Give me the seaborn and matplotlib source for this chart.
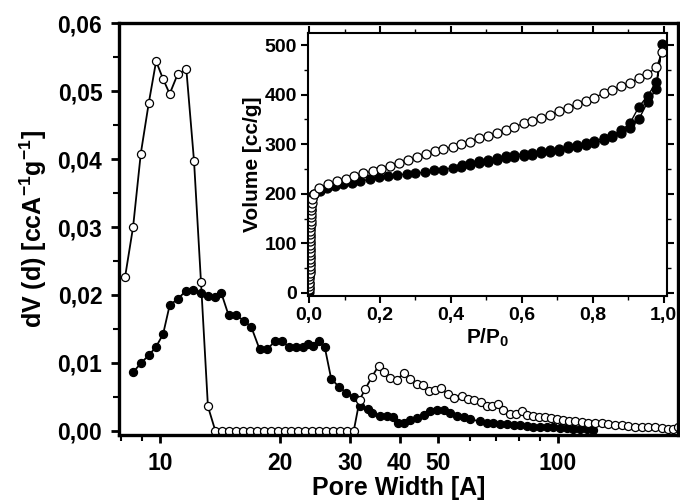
import matplotlib
matplotlib.use("Agg")
import matplotlib.pyplot as plt
import pandas as pd
import seaborn as sns

sns.set_style("ticks")
plt.rcParams["font.family"] = ["Liberation Sans", "DejaVu Sans"]
plt.rcParams["font.weight"] = "bold"
plt.rcParams["axes.labelweight"] = "bold"
plt.rcParams["mathtext.fontset"] = "custom"
plt.rcParams["mathtext.rm"] = "Liberation Sans:bold"
plt.rcParams["mathtext.bf"] = "Liberation Sans:bold"
plt.rcParams["mathtext.default"] = "rm"
for k in ("text.color", "axes.labelcolor", "xtick.color", "ytick.color", "axes.edgecolor"):
    plt.rcParams[k] = "black"

# ---------------------------------------------------------------- main: pore size distribution
open_pw = [8.18, 8.57, 8.96, 9.38, 9.79, 10.19, 10.59, 11.09, 11.66, 12.19, 12.69, 13.21,
           13.79, 14.35, 14.94, 15.55, 16.18, 16.84, 17.53, 18.25, 18.99, 19.77, 20.57,
           21.41, 22.29, 23.20, 24.14, 25.13, 26.15, 27.22, 28.33, 29.49, 30.69,
           31.77, 32.83, 34.13, 35.45, 36.49, 37.78, 39.43, 40.96, 42.57, 44.24, 45.80,
           47.31, 49.18, 50.82, 52.79, 54.86, 57.36, 59.25, 61.6, 64.0, 66.3, 68.2, 70.5,
           72.9, 75.8, 78.5, 81.1, 83.5, 86.4, 89.4, 92.8, 95.9, 99.2, 103.1, 106.7,
           110.3, 114.7, 119.1, 123.8, 128.7, 133.7, 139.0, 144.4, 150.1, 156.0, 162.1,
           168.4, 175.1, 182.0, 189.0, 194.5, 200.0]
open_dv = [0.0226, 0.0300, 0.0408, 0.0482, 0.0544, 0.0518, 0.0496, 0.0525, 0.0532, 0.0397,
           0.0219, 0.0036,
           0.0, 0.0, 0.0, 0.0, 0.0, 0.0, 0.0, 0.0, 0.0, 0.0, 0.0,
           0.0, 0.0, 0.0, 0.0, 0.0, 0.0, 0.0, 0.0, 0.0, 0.0,
           0.0046, 0.0062, 0.0080, 0.0096, 0.0086, 0.0078, 0.0075, 0.0085, 0.0077, 0.0069,
           0.0067, 0.0058, 0.0060, 0.0063, 0.0054, 0.0049, 0.0052, 0.0047, 0.0045, 0.0042,
           0.0037, 0.0037, 0.0039, 0.0031, 0.0025, 0.0025, 0.0029, 0.0024, 0.0022, 0.0021,
           0.0020, 0.0019, 0.0018, 0.0016, 0.0015, 0.0015, 0.0013, 0.0012, 0.0012, 0.0011,
           0.0010, 0.0009, 0.00085, 0.0007, 0.0006, 0.0006, 0.0006, 0.0005, 0.0004,
           0.0003, 0.0003, 0.0006]

fill_pw = [8.59, 8.98, 9.37, 9.77, 10.19, 10.59, 11.09, 11.63, 12.14, 12.67, 13.21, 13.79,
           14.27, 14.89, 15.57, 16.27, 16.97, 17.81, 18.62, 19.45, 20.30, 21.14, 21.96,
           22.83, 23.59, 24.28, 25.14, 25.96, 26.93, 28.14, 29.42, 30.69, 31.90, 33.27,
           34.13, 35.66, 37.22, 38.4, 39.55, 40.96, 42.57, 44.24, 45.96, 47.77, 49.66,
           51.6, 53.6, 55.7, 57.9, 60.2, 63.7, 66.3, 68.8, 71.5, 74.4, 77.3, 80.3, 83.5,
           86.7, 90.1, 93.7, 97.3, 101.2, 105.1, 109.2, 113.5, 118.0, 122.6]
fill_dv = [0.0087, 0.0100, 0.0111, 0.0123, 0.0142, 0.0185, 0.0194, 0.0206, 0.0208, 0.0203,
           0.0199, 0.0197, 0.0203, 0.0170, 0.0170, 0.0162, 0.0153, 0.0120, 0.0120, 0.0132,
           0.0132, 0.0123, 0.0123, 0.0124, 0.0128, 0.0125, 0.0132, 0.0123, 0.0077, 0.0065,
           0.0056, 0.0050, 0.0036, 0.0032, 0.0027, 0.0022, 0.0022, 0.0021, 0.0011, 0.0012,
           0.0016, 0.0019, 0.0024, 0.0029, 0.0031, 0.0030, 0.0026, 0.0022, 0.0020, 0.0017,
           0.0014, 0.0012, 0.0011, 0.0010, 0.0010, 0.0009, 0.0008, 0.0007, 0.0006, 0.0006,
           0.0005, 0.0005, 0.0004, 0.0004, 0.0003, 0.0003, 0.0003, 0.0002]

# ---------------------------------------------------------------- inset: isotherms
iso_open_p = [0.0002, 0.0004, 0.0006, 0.0008, 0.001, 0.0012, 0.0014, 0.0016, 0.0018, 0.002,
              0.0022, 0.0024, 0.0026, 0.0028, 0.003, 0.0032, 0.0034, 0.0036, 0.0038, 0.004,
              0.0043, 0.0046, 0.005, 0.0055, 0.006, 0.007, 0.009, 0.014,
              0.028, 0.053, 0.078, 0.104, 0.128, 0.153, 0.179, 0.203, 0.229, 0.253, 0.279,
              0.304, 0.329, 0.354, 0.379, 0.405, 0.429, 0.455, 0.480, 0.505, 0.530, 0.555,
              0.579, 0.605, 0.630, 0.655, 0.680, 0.705, 0.730, 0.755, 0.780, 0.805, 0.831,
              0.855, 0.881, 0.905, 0.930, 0.954, 0.980, 0.996]
iso_open_v = [8, 14, 20, 27, 34, 41, 48, 55, 62, 69,
              76, 83, 90, 97, 104, 111, 118, 125, 132, 139,
              146, 153, 160, 167, 174, 182, 190, 200,
              211, 219, 225, 230, 236, 241, 246, 251, 257, 263, 268,
              274, 280, 286, 290, 295, 300, 305, 312, 317, 323, 329,
              335, 342, 347, 353, 359, 367, 374, 381, 388, 394, 403,
              409, 417, 424, 433, 441, 455, 487]

iso_fill_p = [0.0003, 0.0005, 0.0008, 0.001, 0.0012, 0.0015, 0.0018, 0.002, 0.0023, 0.0026,
              0.003, 0.0034, 0.0038, 0.0043, 0.005, 0.006, 0.007, 0.009, 0.014,
              0.031, 0.050, 0.073, 0.097, 0.120, 0.144, 0.172, 0.196, 0.224, 0.248, 0.276,
              0.299, 0.328, 0.351, 0.379, 0.405, 0.429, 0.455, 0.480, 0.505, 0.530, 0.555,
              0.579, 0.605, 0.630, 0.655, 0.680, 0.705, 0.730, 0.755, 0.780, 0.805, 0.831,
              0.855, 0.881, 0.905, 0.930, 0.955, 0.980, 0.996]
iso_fill_v = [2, 10, 20, 32, 45, 58, 72, 86, 100, 114,
              128, 142, 155, 167, 177, 186, 192, 196, 200,
              206, 211, 216, 219, 222, 226, 229, 233, 236, 238, 240,
              241, 244, 247, 249, 252, 255, 258, 263, 265, 268, 272,
              275, 276, 278, 282, 285, 287, 292, 295, 298, 303, 308,
              315, 322, 332, 350, 385, 412, 502]
iso_des_p = [0.980, 0.955, 0.930, 0.905, 0.881, 0.855, 0.831, 0.805, 0.780, 0.755, 0.730,
             0.705, 0.680, 0.655, 0.630, 0.605, 0.579, 0.555, 0.530, 0.505, 0.480, 0.455,
             0.430]
iso_des_v = [425, 398, 375, 342, 328, 318, 312, 307, 302, 299, 296,
             291, 289, 286, 282, 280, 279, 276, 272, 269, 267, 262,
             259]

psd_open = pd.DataFrame({"w": open_pw, "dv": open_dv})
psd_fill = pd.DataFrame({"w": fill_pw, "dv": fill_dv})
iso_open = pd.DataFrame({"p": iso_open_p, "v": iso_open_v})
iso_fill = pd.DataFrame({"p": iso_fill_p + iso_des_p, "v": iso_fill_v + iso_des_v})

fig = plt.figure(figsize=(6.8, 5.04), dpi=100)
ax = fig.add_axes([0.175, 0.137, 0.822, 0.817])

line_kw = dict(sort=False, estimator=None, color="black", linewidth=1.3,
               marker="o", markersize=5.8, markeredgecolor="black", markeredgewidth=0.9)
sns.lineplot(data=psd_fill, x="w", y="dv", ax=ax, markerfacecolor="black", **line_kw)
sns.lineplot(data=psd_open, x="w", y="dv", ax=ax, markerfacecolor="white", **line_kw)

ax.set_xscale("log")
ax.set_xlim(7.9, 200)
ax.set_ylim(-0.0006, 0.06)
ax.set_xticks([10, 20, 30, 40, 50, 100], ["10", "20", "30", "40", "50", "100"])
ax.set_xticks([8, 9, 60, 70, 80, 90], minor=True)
ax.xaxis.set_minor_formatter(matplotlib.ticker.NullFormatter())
ax.set_yticks([0, 0.01, 0.02, 0.03, 0.04, 0.05, 0.06],
              ["0,00", "0,01", "0,02", "0,03", "0,04", "0,05", "0,06"])
ax.set_yticks([0.005, 0.015, 0.025, 0.035, 0.045, 0.055], minor=True)
ax.tick_params(axis="both", which="major", labelsize=16.5, length=6, width=2, pad=6)
ax.tick_params(axis="both", which="minor", length=4, width=1.5)
for s in ax.spines.values():
    s.set_linewidth(2.4)
ax.set_xlabel("Pore Width [A]", fontsize=18, labelpad=1)
ax.set_ylabel(r"dV (d) [ccA$^{-1}$g$^{-1}$]", fontsize=18, labelpad=6)

# ---------------------------------------------------------------- inset
ins = fig.add_axes([0.453, 0.413, 0.528, 0.522])
small_kw = dict(line_kw, markersize=6.5, linewidth=1.0)
sns.lineplot(data=iso_fill, x="p", y="v", ax=ins, markerfacecolor="black", **small_kw)
sns.lineplot(data=iso_open, x="p", y="v", ax=ins, markerfacecolor="white", **small_kw)
ins.set_xlim(-0.003, 1.01)
ins.set_ylim(-6, 525)
ins.set_xticks([0, 0.2, 0.4, 0.6, 0.8, 1.0], ["0,0", "0,2", "0,4", "0,6", "0,8", "1,0"])
ins.set_xticks([0.1, 0.3, 0.5, 0.7, 0.9], minor=True)
ins.set_yticks([0, 100, 200, 300, 400, 500])
ins.set_yticks([50, 150, 250, 350, 450], minor=True)
ins.tick_params(axis="both", which="major", labelsize=14, length=5, width=1.5, pad=3)
ins.tick_params(axis="both", which="minor", length=3, width=1)
ins.tick_params(axis="x", which="both", top=True)
ins.tick_params(axis="y", which="both", right=True)
for s in ins.spines.values():
    s.set_linewidth(1.5)
ins.set_xlabel(r"P/P$_{0}$", fontsize=15, labelpad=2)
ins.set_ylabel("Volume [cc/g]", fontsize=15, labelpad=2)

fig.savefig("out.png", dpi=100)
